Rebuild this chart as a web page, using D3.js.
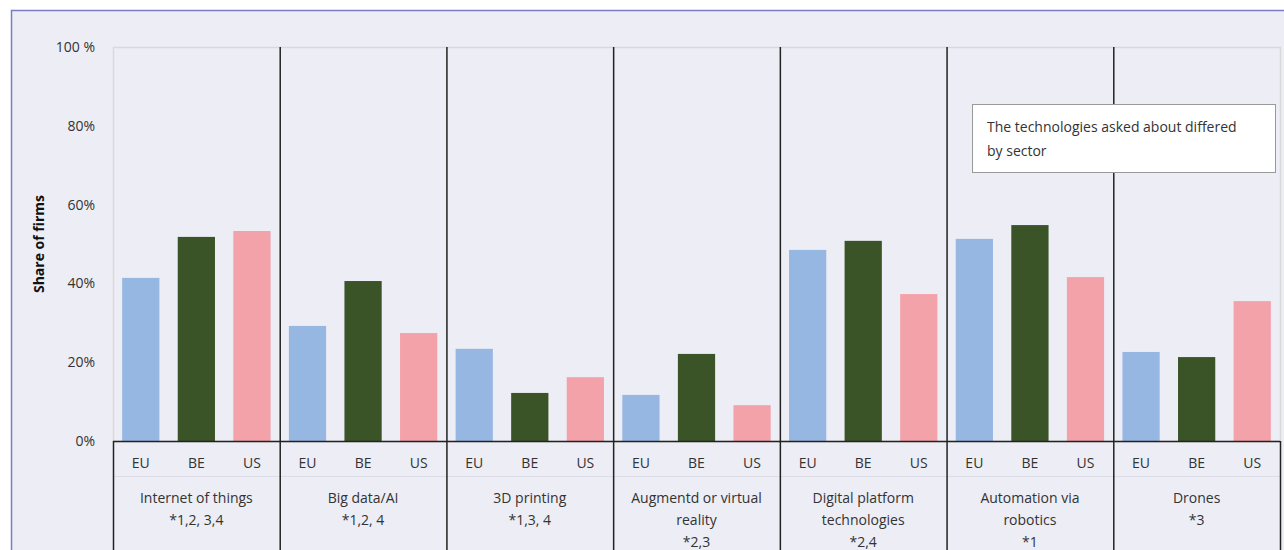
<!DOCTYPE html>
<html>
<head>
<meta charset="utf-8">
<script src="https://cdn.jsdelivr.net/npm/d3@7"></script>
<style>
  body { margin: 0; background: #fff; }
  svg { display: block; font-family: "Open Sans", "Noto Sans", sans-serif; }
</style>
</head>
<body>
<script>
// datos del gráfico
const groups = ["Internet of things", "Big data/AI", "3D printing", "Augmentd or virtual reality",
  "Digital platform technologies", "Automation via robotics", "Drones"];
const groupLines = [["Internet of things", "*1,2, 3,4"], ["Big data/AI", "*1,2, 4"], ["3D printing", "*1,3, 4"],
  ["Augmentd or virtual", "reality", "*2,3"], ["Digital platform", "technologies", "*2,4"],
  ["Automation via", "robotics", "*1"], ["Drones", "*3"]];
const regions = ["EU", "BE", "US"];
const euValues = [41.4, 29.2, 23.4, 11.7, 48.5, 51.3, 22.6];
const beValues = [51.8, 40.6, 12.2, 22.1, 50.8, 54.8, 21.3];
const usValues = [53.3, 27.4, 16.2, 9.1, 37.3, 41.6, 35.5];
const yTicks = [0, 20, 40, 60, 80, 100];
const note = ["The technologies asked about differed", "by sector"];

const width = 1284, height = 550;
const colors = { EU: "#97b7e3", BE: "#3a5327", US: "#f4a2aa" };

const svg = d3.select("body").append("svg")
  .attr("width", width).attr("height", height);

// fondo y borde exterior
svg.append("rect").attr("width", width).attr("height", height).attr("fill", "#fff");
svg.append("rect").attr("x", 11.5).attr("y", 10.5).attr("width", width).attr("height", height)
  .attr("fill", "#ecedf5").attr("stroke", "#7b7bc6").attr("stroke-width", 1.5);

const plotLeft = 113, plotRight = 1280, plotTop = 47, plotBottom = 441;

const x0 = d3.scaleBand().domain(groups).range([plotLeft, plotRight]);
const x1 = d3.scaleBand().domain(regions).range([0, x0.bandwidth()]).paddingInner(0.33).paddingOuter(0.165);
const y = d3.scaleLinear().domain([0, 100]).range([plotBottom, plotTop]);

// borde del área de trazado (gris claro)
svg.append("rect").attr("x", plotLeft + 0.5).attr("y", plotTop + 0.5)
  .attr("width", plotRight - plotLeft).attr("height", plotBottom - plotTop)
  .attr("fill", "none").attr("stroke", "#d9d9d9").attr("stroke-width", 1.5);

// eje Y
svg.append("g").selectAll("text").data(yTicks).join("text")
  .attr("x", 95).attr("y", d => y(d)).attr("dy", "0.35em")
  .attr("text-anchor", "end").attr("font-size", 14).attr("fill", "#333")
  .text(d => d === 100 ? "100 %" : d + "%");

svg.append("text")
  .attr("transform", `translate(44,${(plotTop + plotBottom) / 2}) rotate(-90)`)
  .attr("text-anchor", "middle").attr("font-size", 14).attr("font-weight", "bold").attr("fill", "#111")
  .text("Share of firms");

// barras
const rows = groups.map((g, i) => ({ group: g, vals: [euValues[i], beValues[i], usValues[i]] }));
const gGroup = svg.append("g").selectAll("g").data(rows).join("g")
  .attr("transform", d => `translate(${x0(d.group)},0)`);

gGroup.selectAll("rect").data(d => regions.map((r, j) => ({ r, v: d.vals[j] }))).join("rect")
  .attr("x", d => x1(d.r)).attr("width", x1.bandwidth())
  .attr("y", d => y(d.v)).attr("height", d => y(0) - y(d.v))
  .attr("fill", d => colors[d.r]);

// línea tenue en la zona de etiquetas
svg.append("line").attr("x1", plotLeft).attr("x2", plotRight).attr("y1", 476.5).attr("y2", 476.5)
  .attr("stroke", "#dcdce6").attr("stroke-width", 1);

// separadores negros
svg.append("line").attr("x1", plotLeft).attr("x2", plotRight).attr("y1", plotBottom + 0.5).attr("y2", plotBottom + 0.5)
  .attr("stroke", "#222").attr("stroke-width", 1.5);
const seps = groups.map(g => x0(g)).concat([plotRight]);
svg.append("g").selectAll("line").data(seps).join("line")
  .attr("x1", d => d + 0.5).attr("x2", d => d + 0.5)
  .attr("y1", (d, i) => (i === 0 || i === seps.length - 1) ? plotBottom : plotTop)
  .attr("y2", height)
  .attr("stroke", "#222").attr("stroke-width", 1.5);

// etiquetas de categoría
gGroup.selectAll("text.reg").data(regions).join("text").attr("class", "reg")
  .attr("x", r => x1(r) + x1.bandwidth() / 2).attr("y", 463).attr("dy", "0.35em")
  .attr("text-anchor", "middle").attr("font-size", 14).attr("fill", "#333").text(r => r);

gGroup.each(function(d, i) {
  d3.select(this).selectAll("text.grp").data(groupLines[i]).join("text").attr("class", "grp")
    .attr("x", x0.bandwidth() / 2).attr("y", (t, k) => 498 + k * 22).attr("dy", "0.35em")
    .attr("text-anchor", "middle").attr("font-size", 14).attr("fill", "#333").text(t => t);
});

// nota
svg.append("rect").attr("x", 972.5).attr("y", 104.5).attr("width", 303).attr("height", 68)
  .attr("fill", "#fff").attr("stroke", "#999");
svg.append("g").selectAll("text").data(note).join("text")
  .attr("x", 987).attr("y", (d, i) => 127 + i * 24).attr("dy", "0.35em")
  .attr("font-size", 14).attr("fill", "#333").text(d => d);
</script>
</body>
</html>
